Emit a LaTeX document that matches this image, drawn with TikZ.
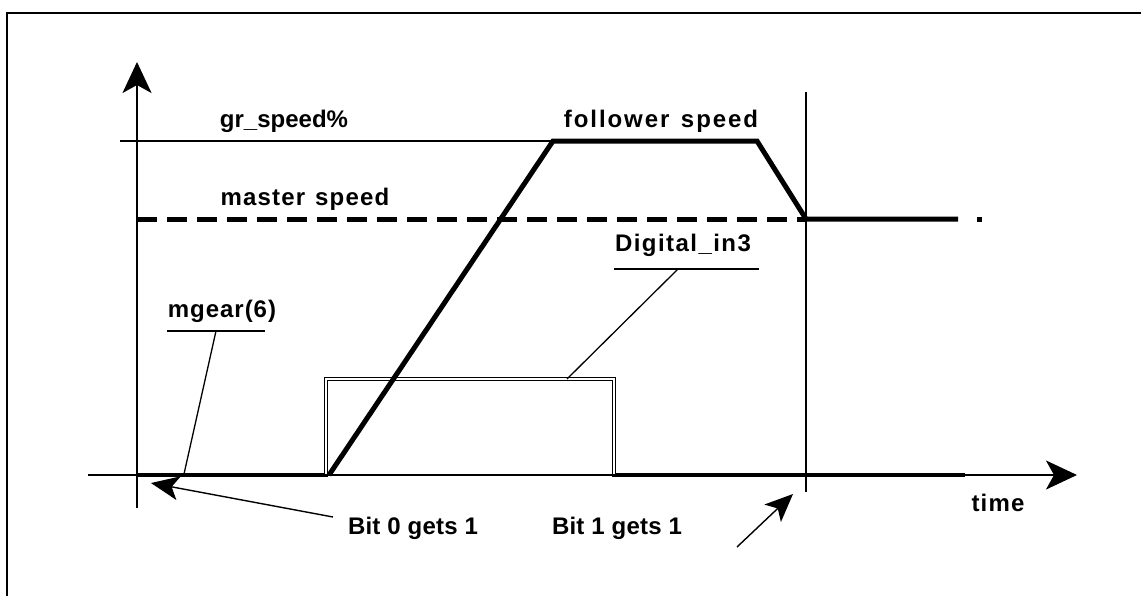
\documentclass[tikz,border=0pt]{standalone}
\usepackage{fontspec}
\setmainfont{Liberation Sans}
\usetikzlibrary{arrows.meta}
\newcommand{\lsp}[2]{{\addfontfeature{LetterSpace=#1}#2}}
\begin{document}
\begin{tikzpicture}[x=1pt,y=-1pt,
  lbl/.style={font=\fontsize{24}{28}\selectfont\bfseries, inner sep=0pt, anchor=center},
  axis/.style={line width=2pt, -{Stealth[length=31pt,width=29pt,inset=8pt]}},
  thin/.style={line width=1.3pt},
  thick/.style={line width=5pt},
  pulse/.style={line width=1.1pt, double=white, double distance=1.8pt},
  ptr/.style={line width=1.4pt, -{Stealth[length=28pt,width=24pt,inset=7pt]}}
]
\useasboundingbox (0,0) rectangle (1141,595);
% frame
\draw[line width=2pt] (7,596) -- (7,13) -- (1142,13);

% coordinates
\coordinate (ybot) at (137,508);
\coordinate (ytop) at (137,62);
\coordinate (xl) at (88,475);
\coordinate (xr) at (1077,475);
\coordinate (vtop) at (806,92);
\coordinate (vbot) at (806,492);
\coordinate (grL) at (120,141);
\coordinate (f0) at (329,475);
\coordinate (f1) at (553,141);
\coordinate (f2) at (757,141);
\coordinate (f3) at (806,219);
\coordinate (f4) at (958,219);
\coordinate (mL) at (137,219);
\coordinate (mdA) at (977,219);
\coordinate (mdB) at (982,219);
\coordinate (p0) at (137,475);
\coordinate (p1) at (326,475);
\coordinate (p2) at (326,379);
\coordinate (p3) at (614,379);
\coordinate (p4) at (614,475);
\coordinate (p5) at (965,475);
\coordinate (mgU1) at (167,331);
\coordinate (mgU2) at (265,331);
\coordinate (mgA) at (216,331);
\coordinate (mgB) at (184,474);
\coordinate (diU1) at (614,269);
\coordinate (diU2) at (759,269);
\coordinate (diA) at (678,269);
\coordinate (diB) at (567,379);
\coordinate (b0tail) at (333,517);
\coordinate (b0tip) at (151,483);
\coordinate (b1tail) at (737,547);
\coordinate (b1tip) at (793,494);

% labels
\node[lbl] (gr) at (284,121) {gr\_speed\%};
\node[lbl] (fs) at (661,121) {\lsp{8}{follower\hspace{3pt} speed}};
\node[lbl] (ms) at (305,199) {\lsp{5}{master\hspace{2pt} speed}};
\node[lbl] (di) at (683,245) {\lsp{6}{Digital\_in3}};
\node[lbl] (mg) at (222,311) {\lsp{4}{mgear(6)}};
\node[lbl] (tm) at (998,503) {\lsp{5}{time}};
\node[lbl] (b0) at (413,528) {\lsp{1}{Bit 0 gets 1}};
\node[lbl] (b1) at (617,528) {\lsp{1}{Bit 1 gets 1}};

% digital pulse (double line)
\draw[pulse] (p0) -- (p1) -- (p2) -- (p3) -- (p4) -- (p5);

% axes
\draw[axis] (ybot) -- (ytop);
\draw[axis] (xl) -- (xr);
\draw[line width=2pt] (vtop) -- (vbot);

% gr_speed level
\draw[thin] (grL) -- (f1);

% master speed dashed
\draw[thick, dash pattern=on 20pt off 10pt] (mL) -- (f3);
\draw[thick] (mdA) -- (mdB);

% follower speed
\draw[thick, line join=miter] (f0) -- (f1) -- (f2) -- (f3) -- (f4);

% leaders
\draw[thin] (mgU1) -- (mgU2);
\draw[thin] (mgA) -- (mgB);
\draw[thin] (diU1) -- (diU2);
\draw[thin] (diA) -- (diB);

% pointer arrows
\draw[ptr] (b0tail) -- (b0tip);
\draw[ptr] (b1tail) -- (b1tip);
\end{tikzpicture}
\end{document}
